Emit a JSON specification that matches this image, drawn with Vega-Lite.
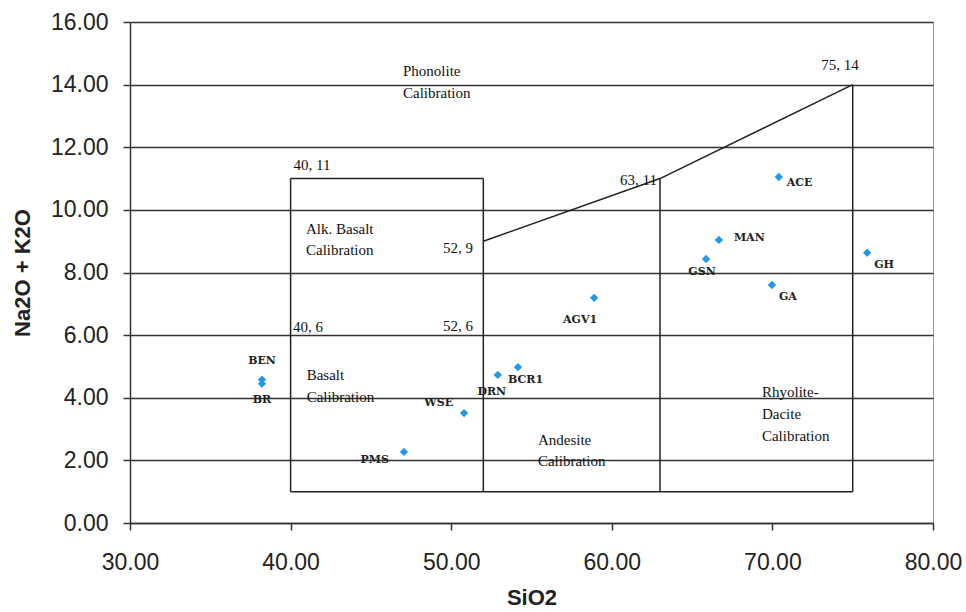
{
  "$schema": "https://vega.github.io/schema/vega-lite/v6.json",
  "width": 803,
  "height": 501,
  "autosize": {"type": "none"},
  "padding": {"left": 130, "top": 22, "right": 33, "bottom": 89},
  "background": "white",
  "config": {
    "view": {"stroke": "#999999", "strokeWidth": 1},
    "axis": {
      "domainColor": "#333333", "domainWidth": 1.5,
      "tickColor": "#333333", "tickWidth": 1.5, "tickSize": 7,
      "labelFont": "Liberation Sans", "labelFontSize": 23, "labelColor": "#222222",
      "titleFont": "Liberation Sans", "titleFontWeight": "bold", "titleFontSize": 22, "titleColor": "#222222",
      "gridColor": "#333333", "gridWidth": 1.5, "gridOpacity": 1
    }
  },
  "datasets": {
    "pts": [
      {"name": "BEN", "x": 38.22, "y": 4.58},
      {"name": "BR", "x": 38.22, "y": 4.45},
      {"name": "PMS", "x": 47.06, "y": 2.27},
      {"name": "WSE", "x": 50.8, "y": 3.51},
      {"name": "DRN", "x": 52.9, "y": 4.73},
      {"name": "BCR1", "x": 54.16, "y": 4.98},
      {"name": "AGV1", "x": 58.9, "y": 7.19},
      {"name": "ACE", "x": 70.4, "y": 11.05},
      {"name": "MAN", "x": 66.67, "y": 9.04},
      {"name": "GSN", "x": 65.87, "y": 8.43},
      {"name": "GA", "x": 69.97, "y": 7.6},
      {"name": "GH", "x": 75.9, "y": 8.63}
    ],
    "segs": [
      {"x": 40, "y": 1, "x2": 40, "y2": 11},
      {"x": 40, "y": 11, "x2": 52, "y2": 11},
      {"x": 52, "y": 11, "x2": 52, "y2": 1},
      {"x": 40, "y": 1, "x2": 75, "y2": 1},
      {"x": 63, "y": 1, "x2": 63, "y2": 11},
      {"x": 75, "y": 1, "x2": 75, "y2": 14},
      {"x": 52, "y": 9, "x2": 63, "y2": 11},
      {"x": 63, "y": 11, "x2": 75, "y2": 14}
    ],
    "notesL": [
      {"x": 47.0, "y": 14.44, "text": "Phonolite"},
      {"x": 47.0, "y": 13.73, "text": "Calibration"},
      {"x": 40.18, "y": 11.43, "text": "40, 11"},
      {"x": 40.96, "y": 9.39, "text": "Alk. Basalt"},
      {"x": 40.96, "y": 8.72, "text": "Calibration"},
      {"x": 40.15, "y": 6.26, "text": "40, 6"},
      {"x": 41.0, "y": 4.73, "text": "Basalt"},
      {"x": 41.0, "y": 4.02, "text": "Calibration"},
      {"x": 55.4, "y": 2.65, "text": "Andesite"},
      {"x": 55.4, "y": 1.98, "text": "Calibration"},
      {"x": 69.35, "y": 4.18, "text": "Rhyolite-"},
      {"x": 69.35, "y": 3.48, "text": "Dacite"},
      {"x": 69.35, "y": 2.78, "text": "Calibration"}
    ],
    "notesR": [
      {"x": 51.36, "y": 8.78, "text": "52, 9"},
      {"x": 62.81, "y": 10.95, "text": "63, 11"},
      {"x": 51.36, "y": 6.29, "text": "52, 6"}
    ],
    "notesC": [
      {"x": 74.21, "y": 14.63, "text": "75, 14"}
    ]
  },
  "encoding": {
    "x": {
      "field": "x", "type": "quantitative",
      "scale": {"domain": [30, 80], "nice": false, "zero": false},
      "axis": {"title": "SiO2", "values": [30, 40, 50, 60, 70, 80], "format": ".2f", "grid": false, "labelPadding": 21, "titlePadding": 13, "labelFlush": false}
    },
    "y": {
      "field": "y", "type": "quantitative",
      "scale": {"domain": [0, 16], "nice": false},
      "axis": {"title": "Na2O + K2O", "values": [0, 2, 4, 6, 8, 10, 12, 14, 16], "format": ".2f", "grid": true, "labelPadding": 15, "titlePadding": 16}
    }
  },
  "layer": [
    {
      "data": {"name": "segs"},
      "mark": {"type": "rule", "color": "#222222", "strokeWidth": 1.5},
      "encoding": {"x2": {"field": "x2"}, "y2": {"field": "y2"}}
    },
    {
      "data": {"name": "pts"},
      "mark": {"type": "point", "shape": "diamond", "filled": true, "color": "#2299e6", "size": 70, "opacity": 1}
    },
    {
      "data": {"name": "notesL"},
      "mark": {"type": "text", "align": "left", "baseline": "middle", "font": "Liberation Serif", "fontSize": 15, "color": "#111111"},
      "encoding": {"text": {"field": "text"}}
    },
    {
      "data": {"name": "notesR"},
      "mark": {"type": "text", "align": "right", "baseline": "middle", "font": "Liberation Serif", "fontSize": 15, "color": "#111111"},
      "encoding": {"text": {"field": "text"}}
    },
    {
      "data": {"name": "notesC"},
      "mark": {"type": "text", "align": "center", "baseline": "middle", "font": "Liberation Serif", "fontSize": 15, "color": "#111111"},
      "encoding": {"text": {"field": "text"}}
    },
    {
      "data": {"name": "pts"},
      "transform": [{"filter": {"field": "name", "oneOf": ["BEN"]}}],
      "mark": {"type": "text", "align": "center", "baseline": "middle", "dy": -19, "font": "DejaVu Serif", "fontWeight": "bold", "fontSize": 11, "color": "#222222"},
      "encoding": {"text": {"field": "name"}}
    },
    {
      "data": {"name": "pts"},
      "transform": [{"filter": {"field": "name", "oneOf": ["BR"]}}],
      "mark": {"type": "text", "align": "center", "baseline": "middle", "dy": 16, "font": "DejaVu Serif", "fontWeight": "bold", "fontSize": 11, "color": "#222222"},
      "encoding": {"text": {"field": "name"}}
    },
    {
      "data": {"name": "pts"},
      "transform": [{"filter": {"field": "name", "oneOf": ["DRN"]}}],
      "mark": {"type": "text", "align": "center", "baseline": "middle", "dx": -6, "dy": 17, "font": "DejaVu Serif", "fontWeight": "bold", "fontSize": 11, "color": "#222222"},
      "encoding": {"text": {"field": "name"}}
    },
    {
      "data": {"name": "pts"},
      "transform": [{"filter": {"field": "name", "oneOf": ["BCR1"]}}],
      "mark": {"type": "text", "align": "left", "baseline": "middle", "dx": -10, "dy": 13, "font": "DejaVu Serif", "fontWeight": "bold", "fontSize": 11, "color": "#222222"},
      "encoding": {"text": {"field": "name"}}
    },
    {
      "data": {"name": "pts"},
      "transform": [{"filter": {"field": "name", "oneOf": ["GSN"]}}],
      "mark": {"type": "text", "align": "center", "baseline": "middle", "dx": -4, "dy": 13, "font": "DejaVu Serif", "fontWeight": "bold", "fontSize": 11, "color": "#222222"},
      "encoding": {"text": {"field": "name"}}
    },
    {
      "data": {"name": "pts"},
      "transform": [{"filter": {"field": "name", "oneOf": ["GA", "GH"]}}],
      "mark": {"type": "text", "align": "left", "baseline": "middle", "dx": 7, "dy": 12, "font": "DejaVu Serif", "fontWeight": "bold", "fontSize": 11, "color": "#222222"},
      "encoding": {"text": {"field": "name"}}
    },
    {
      "data": {"name": "pts"},
      "transform": [{"filter": {"field": "name", "oneOf": ["ACE"]}}],
      "mark": {"type": "text", "align": "left", "baseline": "middle", "dx": 8, "dy": 6, "font": "DejaVu Serif", "fontWeight": "bold", "fontSize": 11, "color": "#222222"},
      "encoding": {"text": {"field": "name"}}
    },
    {
      "data": {"name": "pts"},
      "transform": [{"filter": {"field": "name", "oneOf": ["MAN"]}}],
      "mark": {"type": "text", "align": "left", "baseline": "middle", "dx": 15, "dy": -2, "font": "DejaVu Serif", "fontWeight": "bold", "fontSize": 11, "color": "#222222"},
      "encoding": {"text": {"field": "name"}}
    },
    {
      "data": {"name": "pts"},
      "transform": [{"filter": {"field": "name", "oneOf": ["PMS"]}}],
      "mark": {"type": "text", "align": "right", "baseline": "middle", "dx": -15, "dy": 8, "font": "DejaVu Serif", "fontWeight": "bold", "fontSize": 11, "color": "#222222"},
      "encoding": {"text": {"field": "name"}}
    },
    {
      "data": {"name": "pts"},
      "transform": [{"filter": {"field": "name", "oneOf": ["WSE"]}}],
      "mark": {"type": "text", "align": "right", "baseline": "middle", "dx": -11, "dy": -10, "font": "DejaVu Serif", "fontWeight": "bold", "fontSize": 11, "color": "#222222"},
      "encoding": {"text": {"field": "name"}}
    },
    {
      "data": {"name": "pts"},
      "transform": [{"filter": {"field": "name", "oneOf": ["AGV1"]}}],
      "mark": {"type": "text", "align": "center", "baseline": "middle", "dx": -14, "dy": 22, "font": "DejaVu Serif", "fontWeight": "bold", "fontSize": 11, "color": "#222222"},
      "encoding": {"text": {"field": "name"}}
    }
  ]
}
